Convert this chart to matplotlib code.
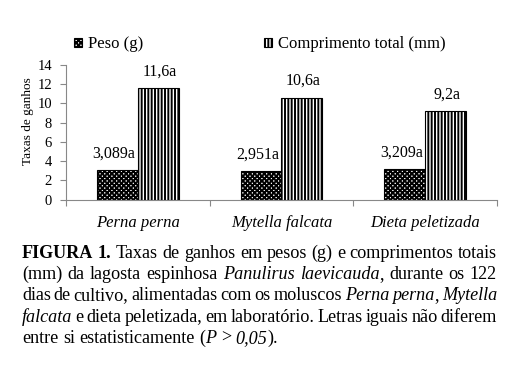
import matplotlib
matplotlib.use("Agg")
import matplotlib.pyplot as plt
import numpy as np

plt.rcParams['font.family'] = ['Liberation Serif', 'DejaVu Serif']
plt.rcParams['hatch.linewidth'] = 1.4

categories = ["Perna perna", "Mytella falcata", "Dieta peletizada"]
peso = [3.089, 2.951, 3.209]
comprimento = [11.6, 10.6, 9.2]
peso_labels = ["3,089a", "2,951a", "3,209a"]
comp_labels = ["11,6a", "10,6a", "9,2a"]
series_names = ["Peso (g)", "Comprimento total (mm)"]
yticks = [0, 2, 4, 6, 8, 10, 12, 14]

W, H = 517, 377
fig = plt.figure(figsize=(W / 100, H / 100), dpi=100)
ax = fig.add_axes([66 / W, 1 - 199.7 / H, (497 - 66) / W, (199.7 - 64.9) / H])

x = np.arange(len(categories))
bw = 0.285
b1 = ax.bar(x - bw / 2, peso, bw, facecolor='white', edgecolor='black',
            hatch='xxxxxxx', linewidth=0.8, label=series_names[0])
b2 = ax.bar(x + bw / 2, comprimento, bw, facecolor='white', edgecolor='black',
            hatch='|||||', linewidth=0.8, label=series_names[1])

for xi, v, t in zip(x - bw / 2, peso, peso_labels):
    ax.annotate(t, (xi, v), xytext=(-2.5, 9), textcoords='offset points',
                ha='center', va='baseline', fontsize=11.5)
for xi, v, t in zip(x + bw / 2, comprimento, comp_labels):
    ax.annotate(t, (xi, v), xytext=(0.7, 9), textcoords='offset points',
                ha='center', va='baseline', fontsize=11.5)

ax.set_xlim(-0.5, len(categories) - 0.5)
ax.set_ylim(0, 14)
ax.set_yticks(yticks)
ax.set_yticklabels([str(v) for v in yticks], fontsize=10.5)
ax.tick_params(axis='y', direction='out', length=4, width=0.8, color='#888888', pad=6)
ax.set_xticks(x)
ax.set_xticklabels(categories, fontsize=12, style='italic')
ax.tick_params(axis='x', length=0, pad=11)
ax.set_xticks(np.arange(-0.5, len(categories)), minor=True)
ax.tick_params(axis='x', which='minor', direction='out', length=4, width=0.8, color='#888888')
for s in ('top', 'right'):
    ax.spines[s].set_visible(False)
for s in ('left', 'bottom'):
    ax.spines[s].set_color('#888888')
    ax.spines[s].set_linewidth(0.8)

fig.text(27.5 / W, 1 - 121 / H, "Taxas de ganhos", rotation=90, ha='center',
         va='center', fontsize=9.5)

leg = fig.legend(handles=[b1, b2], loc='center left',
                 bbox_to_anchor=(74 / W, 1 - 44 / H), ncol=2, frameon=False,
                 fontsize=12, handlelength=0.45, handleheight=0.45,
                 handletextpad=0.4, columnspacing=7.25, borderpad=0, borderaxespad=0)

# caption with justified lines
caption = [
    [[("FIGURA", 'b')], [("1.", 'b')], [("Taxas", 'r')], [("de", 'r')], [("ganhos", 'r')],
     [("em", 'r')], [("pesos", 'r')], [("(g)", 'r')], [("e", 'r')], [("comprimentos", 'r')],
     [("totais", 'r')]],
    [[("(mm)", 'r')], [("da", 'r')], [("lagosta", 'r')], [("espinhosa", 'r')],
     [("Panulirus", 'i')], [("laevicauda", 'i'), (",", 'r')], [("durante", 'r')],
     [("os", 'r')], [("122", 'r')]],
    [[("dias", 'r')], [("de", 'r')], [("cultivo,", 'r')], [("alimentadas", 'r')],
     [("com", 'r')], [("os", 'r')], [("moluscos", 'r')], [("Perna", 'i')],
     [("perna", 'i'), (",", 'r')], [("Mytella", 'i')]],
    [[("falcata", 'i')], [("e", 'r')], [("dieta", 'r')], [("peletizada,", 'r')],
     [("em", 'r')], [("laboratório.", 'r')], [("Letras", 'r')], [("iguais", 'r')],
     [("não", 'r')], [("diferem", 'r')]],
    [[("entre", 'r')], [("si", 'r')], [("estatisticamente", 'r')],
     [("(", 'r'), ("P", 'i')], [(">", 'r')], [("0,05", 'i'), (").", 'r')]],
]
baselines = [257.5, 279.0, 300.3, 321.6, 343.0]
x_left, x_right = 22, 497
cap_fs = 13.1
styles = {'r': dict(), 'b': dict(weight='bold'), 'i': dict(style='italic')}

renderer = fig.canvas.get_renderer()

def text_w(s, st):
    t = fig.text(0, 0, s, fontsize=cap_fs, **styles[st])
    w = t.get_window_extent(renderer).width
    t.remove()
    return w

space_w = text_w("a a", 'r') - text_w("aa", 'r')
for li, (line, yb) in enumerate(zip(caption, baselines)):
    widths = [[text_w(s, st) for s, st in word] for word in line]
    total = sum(sum(w) for w in widths)
    ngaps = len(line) - 1
    if li < len(caption) - 1:
        gap = (x_right - x_left - total) / ngaps
    else:
        gap = space_w
    xp = x_left
    for word, ws in zip(line, widths):
        for (s, st), w in zip(word, ws):
            fig.text(xp / W, 1 - yb / H, s, fontsize=cap_fs, ha='left', va='baseline',
                     **styles[st])
            xp += w
        xp += gap

fig.savefig("out.png", dpi=100)
